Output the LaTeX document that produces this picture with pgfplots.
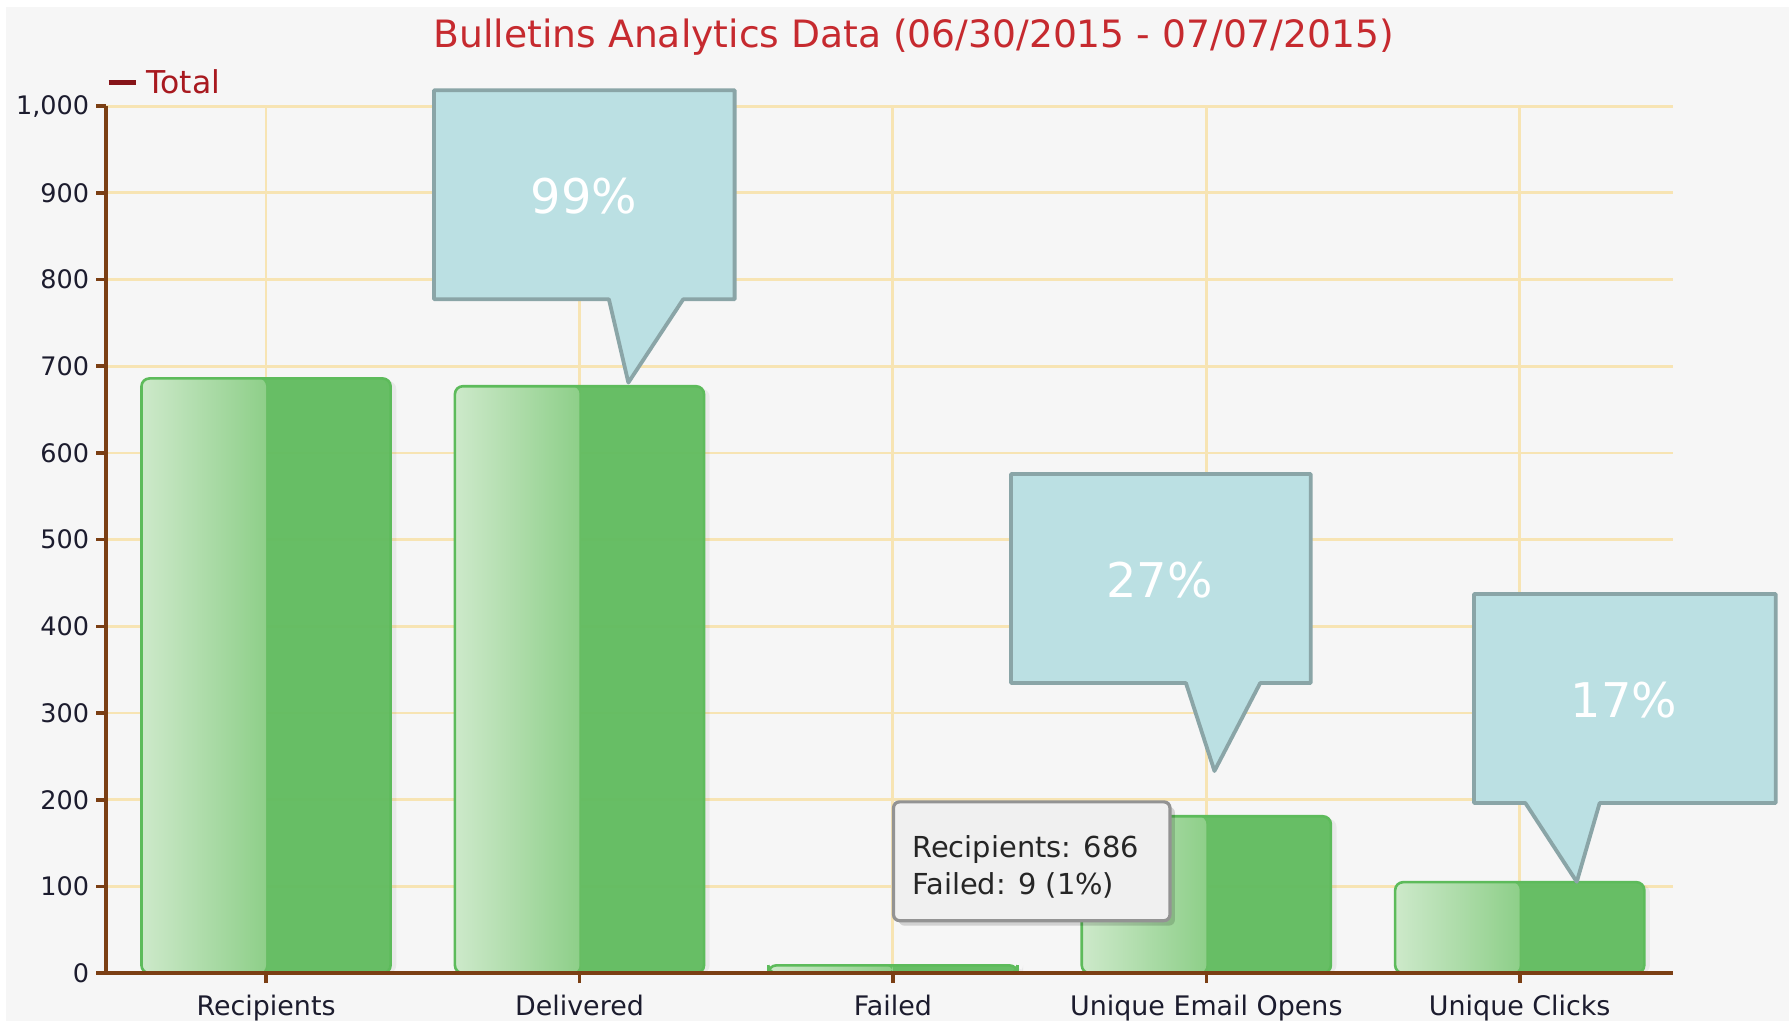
\documentclass[border=0pt]{standalone}
\usepackage{pgfplots}
\pgfplotsset{compat=1.18}
\usepackage{fontspec}
\setmainfont{DejaVu Sans}
\definecolor{panel}{HTML}{F6F6F6}
\definecolor{gridc}{HTML}{F7E4B3}
\definecolor{axisc}{HTML}{7B3F14}
\definecolor{barsolid}{HTML}{63BD61}
\definecolor{barlight}{HTML}{CDE9CA}
\definecolor{barmid}{HTML}{8ECF89}
\definecolor{barborder}{HTML}{5DBB5B}
\definecolor{callfill}{HTML}{BBE0E3}
\definecolor{callborder}{HTML}{8AA5A7}
\definecolor{titlec}{HTML}{C62A2F}
\definecolor{legc}{HTML}{A8191F}
\definecolor{tickc}{HTML}{1C1C2E}
\pgfplotsset{lefthalf/.style={ybar, bar width=0.3975, bar shift=-0.19875, left color=barlight, right color=barmid, draw=none, rounded corners=4bp}}
\begin{document}
\begin{tikzpicture}
\path[use as bounding box] (0,0) rectangle (895.5bp,510.5bp);
\fill[white] (0,0) rectangle (895.5bp,510.5bp);
\fill[panel] (3bp,0) rectangle (894.5bp,507bp);
\node[anchor=base, text=titlec, font=\fontsize{18.9}{22}\selectfont, inner sep=0pt] at (457bp,486.5bp) {Bulletins Analytics Data (06/30/2015 - 07/07/2015)};
\draw[color=legc!80!black, line width=2.5bp] (54.3bp,469.4bp) -- (68bp,469.4bp);
\node[anchor=base west, text=legc, font=\fontsize{15.8}{18}\selectfont, inner sep=0pt] at (73.1bp,463.8bp) {Total};
\begin{axis}[
  at={(53.1bp,23.9bp)}, anchor=south west,
  scale only axis, width=783.55bp, height=433.5bp,
  xmin=-0.51, xmax=4.49, ymin=0, ymax=1000,
  axis x line=bottom, axis y line=left,
  axis line style={-, color=axisc, line width=2bp},
  clip=false,
  xtick={0,1,2,3,4},
  xticklabels={Recipients, Delivered, Failed, Unique Email Opens, Unique Clicks},
  ytick={0,100,...,1000},
  tick align=outside,
  major tick length=5bp,
  tick style={color=axisc, line width=1.8bp},
  grid=major,
  major grid style={color=gridc, line width=1.4bp},
  /pgf/number format/assume math mode=true,
  /pgf/number format/1000 sep={,},
  yticklabel style={text=tickc, font=\fontsize{12.8}{14}\selectfont},
  xticklabel style={text=tickc, font=\fontsize{13.5}{15}\selectfont, yshift=-2.5bp},
]
% shadow
\addplot[ybar, bar width=0.795, bar shift=0.018, fill=black, fill opacity=0.05, draw=none, rounded corners=4bp]
  coordinates {(0,683) (1,674) (2,7) (3,178) (4,102)};
% solid bar
\addplot[ybar, bar width=0.795, bar shift=0, fill=barsolid, fill opacity=0.97, draw=none, rounded corners=4bp]
  coordinates {(0,686) (1,677) (2,9) (3,181) (4,105)};
% left gradient half, one plot per bar so each has its own shading
\addplot[lefthalf] coordinates {(0,686)};
\addplot[lefthalf] coordinates {(1,677)};
\addplot[lefthalf] coordinates {(2,9)};
\addplot[lefthalf] coordinates {(3,181)};
\addplot[lefthalf] coordinates {(4,105)};
% outline
\addplot[ybar, bar width=0.795, bar shift=0, fill=none, draw=barborder, line width=1.3bp, rounded corners=4bp]
  coordinates {(0,686) (1,677) (2,9) (3,181) (4,105)};
% x axis line on top
\draw[color=axisc, line width=2bp] (axis cs:-0.51,0) -- (axis cs:4.49,0);
% callouts
\draw[fill=callfill, draw=callborder, line width=1.9bp, line join=round]
  (axis cs:0.536,1018.4) -- (axis cs:1.495,1018.4) -- (axis cs:1.495,777.3) -- (axis cs:1.331,777.3)
  -- (axis cs:1.156,681.2) -- (axis cs:1.094,777.3) -- (axis cs:0.536,777.3) -- cycle;
\node[text=white, font=\fontsize{24}{28}\selectfont] at (axis cs:1.014,895.9) {99\%};
\draw[fill=callfill, draw=callborder, line width=1.9bp, line join=round]
  (axis cs:2.377,575.8) -- (axis cs:3.333,575.8) -- (axis cs:3.333,334.7) -- (axis cs:3.172,334.7)
  -- (axis cs:3.026,233.2) -- (axis cs:2.935,334.7) -- (axis cs:2.377,334.7) -- cycle;
\node[text=white, font=\fontsize{24}{28}\selectfont] at (axis cs:2.851,453.2) {27\%};
\draw[fill=callfill, draw=callborder, line width=1.9bp, line join=round]
  (axis cs:3.854,437.4) -- (axis cs:4.817,437.4) -- (axis cs:4.817,196.3) -- (axis cs:4.255,196.3)
  -- (axis cs:4.182,105.4) -- (axis cs:4.018,196.3) -- (axis cs:3.854,196.3) -- cycle;
\node[text=white, font=\fontsize{24}{28}\selectfont] at (axis cs:4.332,314.9) {17\%};
% tooltip
\fill[black, opacity=0.15, rounded corners=3bp] ([xshift=2.5bp,yshift=-2.5bp]axis cs:2.002,197.6) rectangle ([xshift=2.5bp,yshift=-2.5bp]axis cs:2.884,60.6);
\draw[fill=gray!12, draw=gray!85, line width=1.6bp, rounded corners=3bp] (axis cs:2.002,197.6) rectangle (axis cs:2.884,60.6);
\node[anchor=base west, inner sep=0pt, text=black!85, font=\fontsize{14.5}{17}\selectfont] at (axis cs:2.061,133) {Recipients: 686};
\node[anchor=base west, inner sep=0pt, text=black!85, font=\fontsize{14.5}{17}\selectfont] at (axis cs:2.061,91.3) {Failed: 9 (1\%)};
\end{axis}
\end{tikzpicture}
\end{document}
